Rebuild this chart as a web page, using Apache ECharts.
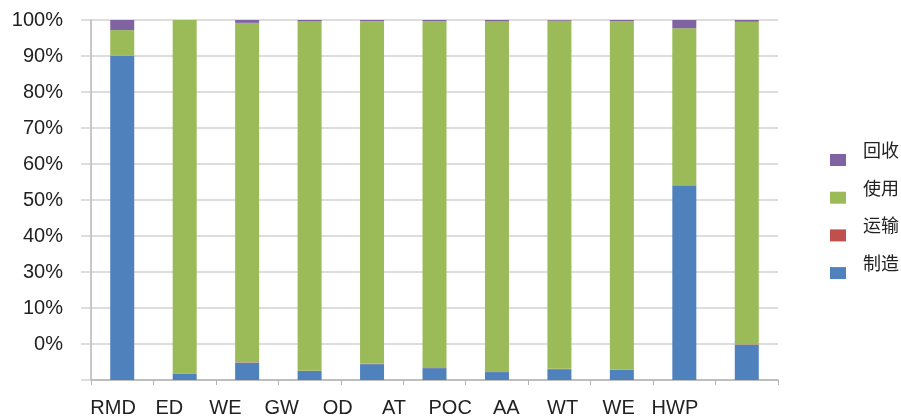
<!DOCTYPE html>
<html>
<head>
<meta charset="utf-8">
<script src="https://cdn.jsdelivr.net/npm/echarts@6/dist/echarts.min.js"></script>
<style>
html,body{margin:0;padding:0;background:#fff;}
#c{width:901px;height:418px;}
</style>
</head>
<body>
<div id="c"></div>
<script>
var categories = ["RMD","ED","WE","GW","OD","AT","POC","AA","WT","WE","HWP"];
var yTickLabels = ["", "0%", "10%", "30%", "40%", "50%", "60%", "70%", "80%", "90%", "100%"];
var legendOrder = ["回收","使用","运输","制造"];
var zhizao   = [90.0, 1.8, 4.8, 2.5, 4.4, 3.3, 2.2, 3.0, 2.8, 54.0, 9.8];
var yunshu   = [0.1, 0.05, 0.1, 0.05, 0.1, 0.05, 0.05, 0.1, 0.05, 0.1, 0.1];
var shiyong  = [7.1, 98.15, 94.3, 97.15, 95.1, 96.25, 97.45, 96.7, 96.75, 43.6, 89.6];
var huishou  = [2.8, 0.0, 0.8, 0.3, 0.4, 0.4, 0.3, 0.2, 0.4, 2.3, 0.5];

var chart = echarts.init(document.getElementById('c'));
var font = 'Liberation Sans, Arial, sans-serif';
function bar(name, data, color){
  return {name:name, type:'bar', stack:'all', data:data, barWidth:24,
    xAxisIndex:0, yAxisIndex:0, itemStyle:{color:color}};
}
chart.setOption({
  animation:false,
  backgroundColor:'#fff',
  grid:[
    {left:91, right:123, top:20, bottom:38},
    {left:85, width:618, top:20, bottom:38}
  ],
  legend:{
    data:legendOrder, orient:'vertical', left:825, top:136,
    icon:'rect', itemWidth:16, itemHeight:12, itemGap:-0.3,
    formatter:function(name){ return '{t|' + name + '}\n{s| }'; },
    textStyle:{fontFamily:'Noto Sans CJK SC', fontSize:18, color:'#222',
      padding:[0,0,0,12],
      rich:{
        t:{fontFamily:'Noto Sans CJK SC', fontSize:18, color:'#222', lineHeight:20},
        s:{fontFamily:'Noto Sans CJK SC', fontSize:18, lineHeight:20}
      }}
  },
  xAxis:[
    {type:'category', gridIndex:0, data:categories, boundaryGap:true,
     axisLine:{lineStyle:{color:'#b4b4b4', width:1.5}},
     axisTick:{show:true, interval:0, length:5, lineStyle:{color:'#b4b4b4'}},
     axisLabel:{show:false}},
    {type:'category', gridIndex:1, data:categories, boundaryGap:true,
     axisLine:{show:false}, axisTick:{show:false},
     axisLabel:{show:true, interval:0, margin:21, fontFamily:font, fontSize:20, color:'#222'}}
  ],
  yAxis:[
    {type:'value', gridIndex:0, min:0, max:100, interval:10,
     axisLine:{show:true, lineStyle:{color:'#b4b4b4', width:1.5}},
     axisTick:{show:true, length:10, lineStyle:{color:'#d2d2d2', width:1.5}},
     splitLine:{lineStyle:{color:'#d2d2d2', width:1.5}},
     axisLabel:{margin:28, fontFamily:font, fontSize:20, color:'#222',
       formatter:function(v){return yTickLabels[Math.round(v/10)];}}},
    {type:'value', gridIndex:1, min:0, max:100, show:false}
  ],
  series:[
    bar('制造', zhizao, '#4f81bd'),
    bar('运输', yunshu, '#c0504d'),
    bar('使用', shiyong, '#9bbb59'),
    bar('回收', huishou, '#8064a2')
  ]
});
</script>
</body>
</html>
